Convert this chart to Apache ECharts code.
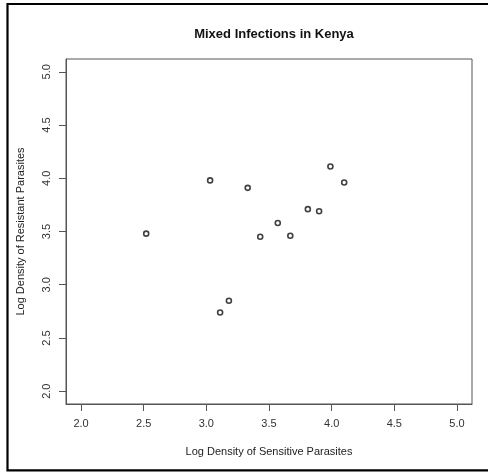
<!DOCTYPE html>
<html>
<head>
<meta charset="utf-8">
<script src="https://cdn.jsdelivr.net/npm/echarts@6/dist/echarts.min.js"></script>
<style>
  html, body { margin: 0; padding: 0; background: #fff; }
  #chart { width: 488px; height: 472px; }
</style>
</head>
<body>
<div id="chart"></div>
<script>
// Log densities of sensitive (x) and resistant (y) parasites per mixed infection
const sensitive = [2.52, 3.03, 3.33, 3.99, 4.10, 3.81, 3.90, 3.57, 3.43, 3.67, 3.18, 3.11];
const resistant = [3.48, 3.98, 3.91, 4.11, 3.96, 3.71, 3.69, 3.58, 3.45, 3.46, 2.85, 2.74];
const tickValues = [2.0, 2.5, 3.0, 3.5, 4.0, 4.5, 5.0];

const points = sensitive.map((x, i) => [x, resistant[i]]);
const font = 'Liberation Sans, Arial, sans-serif';

function axisCommon(name) {
  return {
    type: 'value',
    min: 1.88,
    max: 5.12,
    name: name,
    nameLocation: 'middle',
    nameTextStyle: { fontFamily: font, fontSize: 11, color: '#222' },
    splitLine: { show: false },
    axisLine: { show: true, lineStyle: { color: '#555', width: 1 } },
    axisTick: { show: true, customValues: tickValues, length: 7, lineStyle: { color: '#555', width: 1 } },
    axisLabel: {
      show: true,
      customValues: tickValues,
      formatter: v => v.toFixed(1),
      fontFamily: font, fontSize: 11, color: '#333'
    }
  };
}

const chart = echarts.init(document.getElementById('chart'), null, { renderer: 'canvas' });
const xAxis = axisCommon('Log Density of Sensitive Parasites');
xAxis.nameGap = 42;
xAxis.axisLabel.margin = 14;
const yAxis = axisCommon('Log Density of Resistant Parasites');
yAxis.nameGap = 40;
yAxis.nameRotate = 90;
yAxis.axisLabel.rotate = 90;
yAxis.axisLabel.margin = 14;

chart.setOption({
  animation: false,
  backgroundColor: '#fff',
  title: {
    text: 'Mixed Infections in Kenya',
    left: 269, top: 23, textAlign: 'center',
    textStyle: { fontFamily: font, fontSize: 13, fontWeight: 'bold', color: '#111' }
  },
  grid: { left: 66, right: 16, top: 59, bottom: 68, show: true, borderColor: '#555', borderWidth: 1, backgroundColor: 'transparent' },
  xAxis: xAxis,
  yAxis: yAxis,
  graphic: [{
    type: 'rect',
    shape: { x: 7.5, y: 4, width: 500, height: 466.3 },
    style: { fill: 'none', stroke: '#000', lineWidth: 2.2 },
    silent: true, z: 100
  }],
  series: [{
    type: 'scatter',
    data: points,
    symbol: 'circle',
    symbolSize: 5,
    itemStyle: { color: '#fff', borderColor: '#111', borderWidth: 1.6 }
  }]
});
</script>
</body>
</html>
